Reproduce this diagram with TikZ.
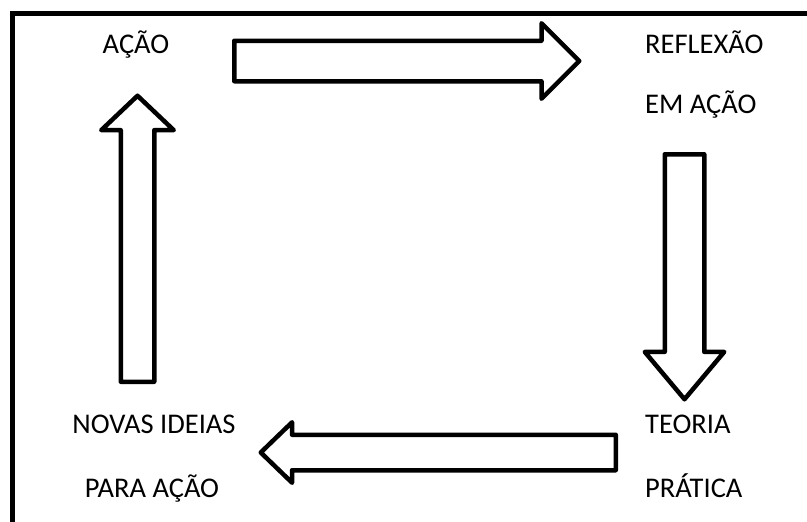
\documentclass[tikz,border=0pt]{standalone}
\usepackage{fontspec}
\setmainfont{Carlito}
\usetikzlibrary{shapes.arrows}

\begin{document}
\begin{tikzpicture}[x=1pt,y=-1pt,inner sep=0pt]
\tikzstyle{rotulo}=[font=\fontsize{28.5}{34}\selectfont]
\tikzstyle{seta}=[single arrow, draw=black, fill=white, line width=4.5pt, line join=round, inner xsep=0pt, anchor=tail]
\useasboundingbox (0,0) rectangle (807,522);
\draw[line width=5pt] (12,522) -- (12,13) -- (807,13);
\node[rotulo,anchor=base] (acao) at (136,53) {AÇÃO};
\node[rotulo,anchor=base west] (reflexao) at (645,53) {REFLEXÃO};
\node[rotulo,anchor=base west] (emacao) at (645,113) {EM AÇÃO};
\node[rotulo,anchor=base west] (teoria) at (645,433) {TEORIA};
\node[rotulo,anchor=base west] (pratica) at (645,497) {PRÁTICA};
\node[rotulo,anchor=base] (novas) at (154,433) {NOVAS IDEIAS};
\node[rotulo,anchor=base] (paraacao) at (152,497) {PARA AÇÃO};
% setas do ciclo
\node[seta, inner ysep=18pt, single arrow head extend=17.5pt, single arrow tip angle=90, minimum height=345pt] (s1) at (232,61) {};
\node[seta, rotate=-90, inner ysep=17.5pt, single arrow head extend=20pt, single arrow tip angle=80, minimum height=245pt] (s2) at (684.5,152) {};
\node[seta, rotate=180, inner ysep=15.5pt, single arrow head extend=12.5pt, single arrow tip angle=88, minimum height=355pt] (s3) at (618,452.5) {};
\node[seta, rotate=90, inner ysep=14.5pt, single arrow head extend=19.5pt, single arrow tip angle=93, minimum height=286pt] (s4) at (137.5,384) {};
\end{tikzpicture}
\end{document}
